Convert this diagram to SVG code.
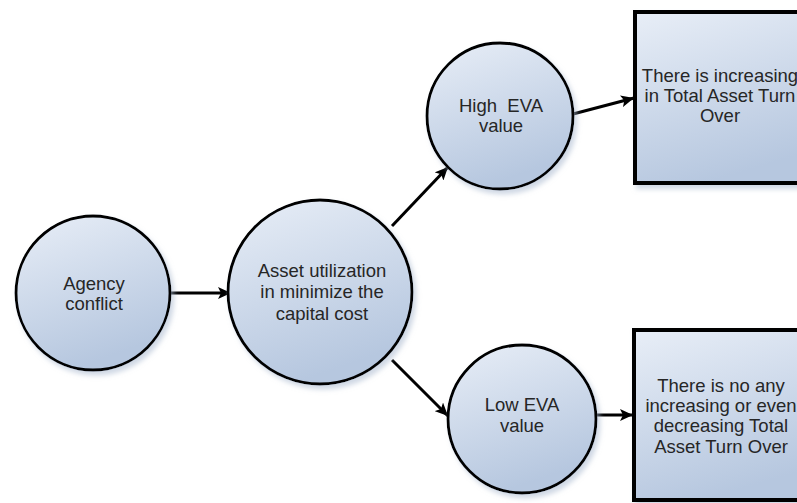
<svg xmlns="http://www.w3.org/2000/svg" width="797" height="503" viewBox="0 0 797 503">
  <defs>
    <linearGradient id="fill" x1="0" y1="0" x2="0.35" y2="1">
      <stop offset="0" stop-color="#e8eef7"/>
      <stop offset="1" stop-color="#b6c7df"/>
    </linearGradient>
    <filter id="shadow" x="-20%" y="-20%" width="140%" height="140%">
      <feDropShadow dx="3" dy="4" stdDeviation="2.5" flood-color="#a9b8cf" flood-opacity="0.55"/>
    </filter>
    <marker id="arrow" markerUnits="userSpaceOnUse" markerWidth="14" markerHeight="12" refX="13" refY="6" orient="auto">
      <path d="M0,0 L13,6 L0,12 L3,6 Z" fill="#000"/>
    </marker>
  </defs>
  <style>
    .node { fill: url(#fill); stroke: #000; stroke-width: 2.8; filter: url(#shadow); }
    .box { fill: url(#fill); stroke: #000; stroke-width: 4; filter: url(#shadow); }
    .lbl { font-family: "Liberation Sans", Arial, sans-serif; font-size: 18.5px; fill: #262626; text-anchor: middle; white-space: pre; }
    .conn { stroke: #000; stroke-width: 3; fill: none; marker-end: url(#arrow); }
  </style>
  <rect width="797" height="503" fill="#ffffff"/>

  <g id="connectors">
    <line class="conn" x1="170" y1="293" x2="231" y2="293"/>
    <line class="conn" x1="392" y1="226" x2="448" y2="167"/>
    <line class="conn" x1="573" y1="114" x2="634" y2="98"/>
    <line class="conn" x1="392" y1="360" x2="448" y2="416"/>
    <line class="conn" x1="597" y1="415" x2="633" y2="415"/>
  </g>

  <g id="agency">
    <circle class="node" cx="93" cy="293" r="77"/>
    <text class="lbl" x="94" y="290">Agency</text>
    <text class="lbl" x="94" y="310">conflict</text>
  </g>

  <g id="asset">
    <circle class="node" cx="320" cy="292" r="92"/>
    <text class="lbl" x="322" y="277">Asset utilization</text>
    <text class="lbl" x="322" y="298">in minimize the</text>
    <text class="lbl" x="322" y="320">capital cost</text>
  </g>

  <g id="high">
    <circle class="node" cx="500" cy="116" r="73"/>
    <text class="lbl" x="501" y="112" xml:space="preserve">High  EVA</text>
    <text class="lbl" x="501" y="132">value</text>
  </g>

  <g id="low">
    <circle class="node" cx="522" cy="419" r="74"/>
    <text class="lbl" x="522" y="411">Low EVA</text>
    <text class="lbl" x="522" y="432">value</text>
  </g>

  <g id="increase">
    <rect class="box" x="635" y="12" width="200" height="171"/>
    <text class="lbl" x="720" y="82">There is increasing</text>
    <text class="lbl" x="720" y="102">in Total Asset Turn</text>
    <text class="lbl" x="720" y="122">Over</text>
  </g>

  <g id="noincrease">
    <rect class="box" x="634" y="330" width="200" height="170"/>
    <text class="lbl" x="721" y="392">There is no any</text>
    <text class="lbl" x="721" y="412">increasing or even</text>
    <text class="lbl" x="721" y="432">decreasing Total</text>
    <text class="lbl" x="721" y="453">Asset Turn Over</text>
  </g>
</svg>
